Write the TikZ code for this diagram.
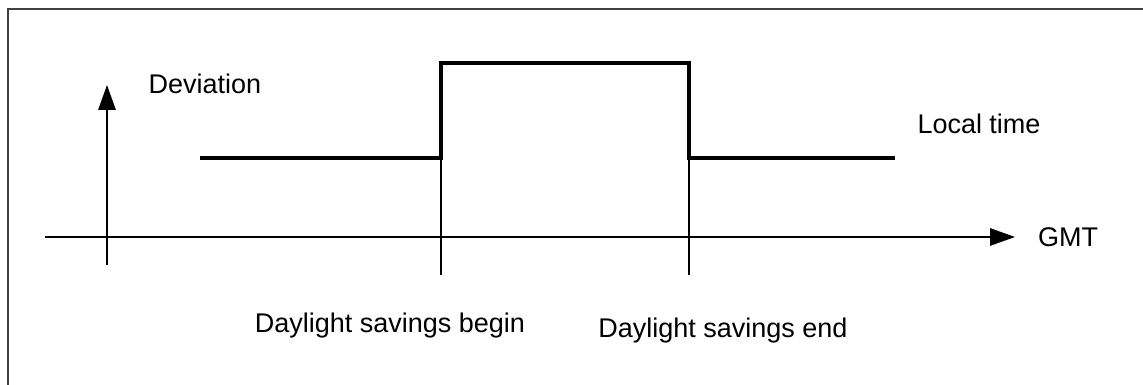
\documentclass[tikz,border=0pt]{standalone}
\usepackage{fontspec}
\setmainfont{Liberation Sans}
\usetikzlibrary{arrows.meta}

\begin{document}
\begin{tikzpicture}[
	axis/.style={line width=1.4pt, -{Triangle[length=6.2mm,width=4.3mm]}},
	curve/.style={line width=2.4pt, line join=miter},
	label/.style={font=\fontsize{19.2}{23}\selectfont, inner sep=0pt}]

	\useasboundingbox (0,0) rectangle (28.575,9.625);
	\draw[line width=1.5pt, black!75] (0.2,0) -- (0.2,9.4) -- (28.575,9.4);

	\coordinate (o) at (1.125,3.7);
	\coordinate (g) at (25.375,3.7);
	\coordinate (v0) at (2.675,3.0);
	\coordinate (v1) at (2.675,7.5);

	\coordinate (a) at (5.0,5.675);
	\coordinate (b) at (11.025,5.675);
	\coordinate (c) at (11.025,8.05);
	\coordinate (d) at (17.225,8.05);
	\coordinate (e) at (17.225,5.675);
	\coordinate (f) at (22.375,5.675);
	\coordinate (bt) at (11.025,2.75);
	\coordinate (et) at (17.225,2.75);

	\draw[axis] (o) -- (g);
	\draw[axis] (v0) -- (v1);
	\draw[line width=1.4pt] (b) -- (bt);
	\draw[line width=1.4pt] (e) -- (et);
	\draw[curve] (a) -- (b) -- (c) -- (d) -- (e) -- (f);

	\node[label] (dev) at (5.125,7.525) {Deviation};
	\node[label] (loc) at (24.475,6.525) {Local time};
	\node[label] (gmt) at (26.7,3.7) {GMT};
	\node[label] (beg) at (9.75,1.475) {Daylight savings begin};
	\node[label] (end) at (18.075,1.35) {Daylight savings end};

\end{tikzpicture}
\end{document}
